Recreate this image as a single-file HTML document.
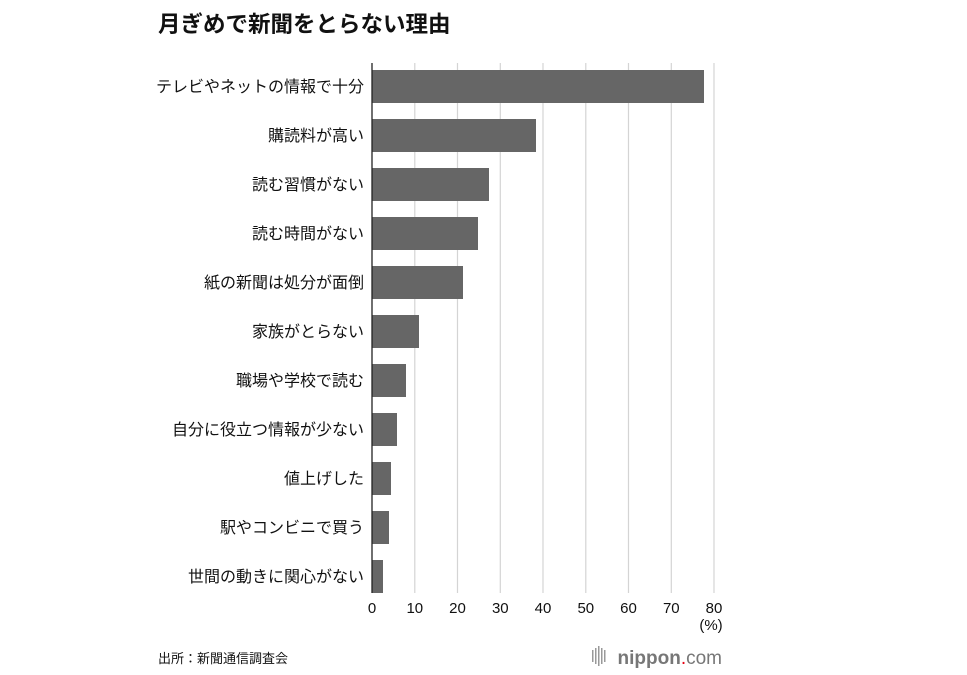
<!DOCTYPE html>
<html><head><meta charset="utf-8"><style>
html,body{margin:0;padding:0;background:#fff;}
svg{display:block;font-family:"Liberation Sans","Noto Sans CJK JP",sans-serif;}
</style></head><body>
<svg width="967" height="675" viewBox="0 0 967 675" xmlns="http://www.w3.org/2000/svg">
<text x="158" y="32" font-size="22.5" font-weight="bold" fill="#111">月ぎめで新聞をとらない理由</text>
<g stroke="#d4d4d4" stroke-width="1.2">
<line x1="414.8" y1="63" x2="414.8" y2="593"/>
<line x1="457.5" y1="63" x2="457.5" y2="593"/>
<line x1="500.3" y1="63" x2="500.3" y2="593"/>
<line x1="543" y1="63" x2="543" y2="593"/>
<line x1="585.8" y1="63" x2="585.8" y2="593"/>
<line x1="628.5" y1="63" x2="628.5" y2="593"/>
<line x1="671.3" y1="63" x2="671.3" y2="593"/>
<line x1="714" y1="63" x2="714" y2="593"/>
</g>
<g fill="#666">
<rect x="372" y="70" width="332" height="33"/>
<rect x="372" y="119" width="164" height="33"/>
<rect x="372" y="168" width="117" height="33"/>
<rect x="372" y="217" width="106" height="33"/>
<rect x="372" y="266" width="91" height="33"/>
<rect x="372" y="315" width="47" height="33"/>
<rect x="372" y="364" width="34" height="33"/>
<rect x="372" y="413" width="25" height="33"/>
<rect x="372" y="462" width="19" height="33"/>
<rect x="372" y="511" width="17" height="33"/>
<rect x="372" y="560" width="11" height="33"/>
</g>
<line x1="372" y1="63" x2="372" y2="593" stroke="#222" stroke-width="1.3"/>
<g font-size="16" fill="#111" text-anchor="end">
<text x="364" y="92">テレビやネットの情報で十分</text>
<text x="364" y="141">購読料が高い</text>
<text x="364" y="190">読む習慣がない</text>
<text x="364" y="239">読む時間がない</text>
<text x="364" y="288">紙の新聞は処分が面倒</text>
<text x="364" y="337">家族がとらない</text>
<text x="364" y="386">職場や学校で読む</text>
<text x="364" y="435">自分に役立つ情報が少ない</text>
<text x="364" y="484">値上げした</text>
<text x="364" y="533">駅やコンビニで買う</text>
<text x="364" y="582">世間の動きに関心がない</text>
</g>
<g font-size="15" fill="#111" text-anchor="middle">
<text x="372" y="613">0</text>
<text x="414.8" y="613">10</text>
<text x="457.5" y="613">20</text>
<text x="500.3" y="613">30</text>
<text x="543" y="613">40</text>
<text x="585.8" y="613">50</text>
<text x="628.5" y="613">60</text>
<text x="671.3" y="613">70</text>
<text x="714" y="613">80</text>
<text x="711" y="630">(%)</text>
</g>
<text x="158" y="663" font-size="13" fill="#111">出所：新聞通信調査会</text>
<g fill="#999">
<rect x="592" y="650" width="1.5" height="12"/><rect x="595" y="648" width="1.5" height="16"/><rect x="598" y="646" width="1.5" height="20"/><rect x="601" y="648" width="1.5" height="16"/><rect x="604" y="650" width="1.5" height="12"/>
</g>
<text x="722" y="664" font-size="19" text-anchor="end" fill="#777"><tspan font-weight="bold">nippon</tspan><tspan fill="#e60012">.</tspan><tspan>com</tspan></text>
</svg>
</body></html>
